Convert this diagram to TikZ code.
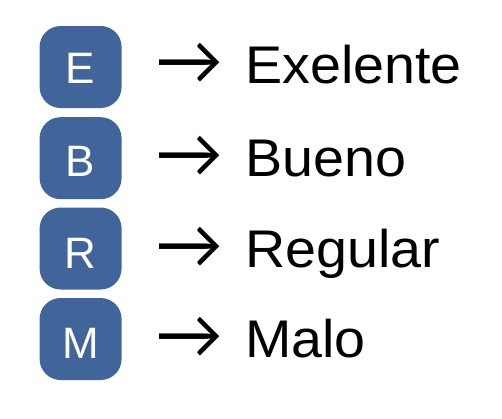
\documentclass[tikz,border=0pt]{standalone}
\usepackage{fontspec}
\setmainfont{Liberation Sans}
\newfontfamily\labelfont{Liberation Sans}[FakeStretch=1.05]
\newfontfamily\arrowfont{Lato}
\definecolor{boxblue}{HTML}{41659A}
\begin{document}
\begin{tikzpicture}[x=1pt,y=-1pt,
  gradebox/.style={fill=boxblue, rounded corners=21pt, minimum width=82pt, minimum height=82pt, inner sep=0pt},
  boxletter/.style={anchor=base, inner sep=0pt, text=white, font=\fontsize{44}{44}\selectfont},
  arrowsign/.style={anchor=center, inner sep=0pt, font=\fontsize{53}{53}\selectfont},
  gradelabel/.style={anchor=base west, inner sep=0pt, font=\labelfont\fontsize{53}{53}\selectfont}]
\useasboundingbox (0,0) rectangle (502,418);
\foreach \n/\l/\t/\y/\a in {e/E/Exelente/67/63.5, b/B/Bueno/158.2/156.7, r/R/Regular/248.5/248.3, m/M/Malo/339/338.3}{
  \node[gradebox] (\n box) at (80.6,\y) {};
  \node[boxletter] (\n letter) at (80.6,\a+20) {\l};
  \node[arrowsign] (\n arrow) at (189,\a) {\resizebox{68pt}{!}{\arrowfont →}};
  \node[gradelabel] (\n text) at (245,\a+19.5) {\t};
}
\end{tikzpicture}
\end{document}
